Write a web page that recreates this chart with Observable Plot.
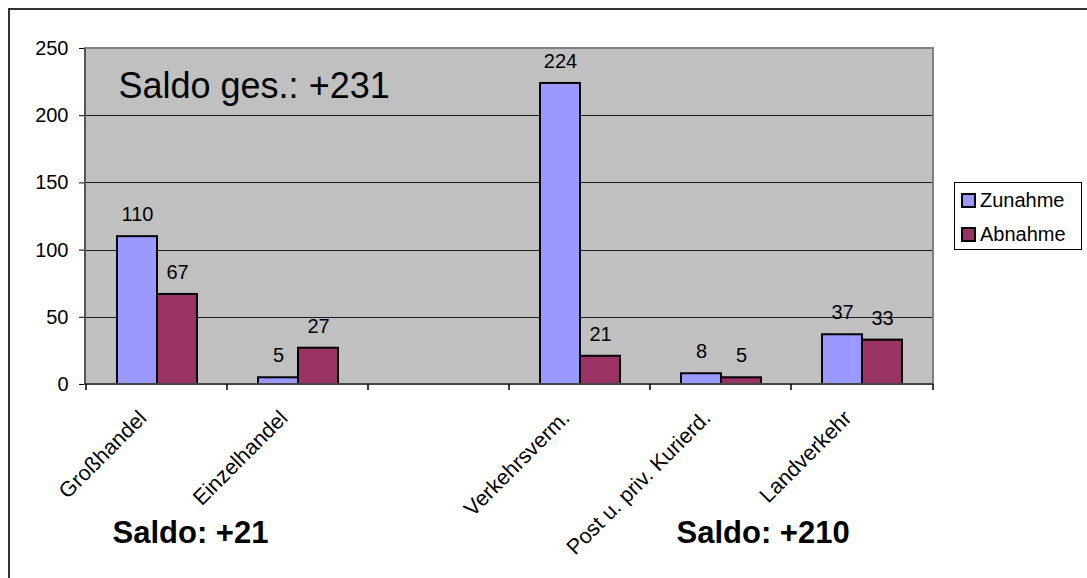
<!DOCTYPE html>
<html><head><meta charset="utf-8">
<script src="https://cdn.jsdelivr.net/npm/d3@7"></script>
<script src="https://cdn.jsdelivr.net/npm/@observablehq/plot@0.6"></script>
<style>
body{margin:0;background:#fff;font-family:"Liberation Sans",Arial,sans-serif;}
#wrap{position:relative;width:1087px;height:578px;overflow:hidden;}
#frame{position:absolute;left:8px;top:8px;width:1200px;height:700px;border-left:2px solid #333;border-top:2px solid #333;pointer-events:none;}
#legend{position:absolute;left:954px;top:182px;width:126px;height:66px;border:1px solid #000;background:#fff;}
.item{position:absolute;left:6px;height:20px;font-size:20px;line-height:20px;display:flex;align-items:center;color:#000;}
.sw{width:11px;height:11px;border:2px solid #000;margin-right:4px;}
</style></head>
<body><div id="wrap"></div>
<script>
const categories = ["Großhandel", "Einzelhandel", " ", "Verkehrsverm.", "Post u. priv. Kurierd.", "Landverkehr"];
const series = ["Zunahme", "Abnahme"];
const zunahme = [110, 5, null, 224, 8, 37];
const abnahme = [67, 27, null, 21, 5, 33];
const colors = ["#9999FF", "#993366"];
const yTicks = [0, 50, 100, 150, 200, 250];
const saldoTotal = [{cat: "Großhandel", text: "Saldo ges.: +231"}];
const saldoGroups = [{cat: "Großhandel", text: "Saldo: +21"}, {cat: "Post u. priv. Kurierd.", text: "Saldo: +210"}];

const colorOf = Object.fromEntries(series.map((s, i) => [s, colors[i]]));
const rows = categories.flatMap((c, i) => [
  {cat: c, series: series[0], value: zunahme[i]},
  {cat: c, series: series[1], value: abnahme[i]}
]);
const FONT = "Liberation Sans, Arial, sans-serif";

const plot = Plot.plot({
  width: 1087, height: 578,
  marginLeft: 85, marginRight: 154, marginTop: 48, marginBottom: 194,
  style: {fontFamily: FONT, fontSize: "20px", color: "#000", background: "transparent", overflow: "visible"},
  fx: {domain: categories, padding: 0, label: null},
  x: {domain: series, paddingInner: 0, paddingOuter: 0.75, axis: null},
  y: {domain: [0, 250], label: null},
  marks: [
    Plot.gridY({ticks: yTicks.filter(t => t > 0 && t < 250), stroke: "#000", strokeOpacity: 0.85, strokeWidth: 1, shapeRendering: "crispEdges"}),
    Plot.barY(rows, {fx: "cat", x: "series", y: "value", fill: d => colorOf[d.series], stroke: "#000", strokeWidth: 2}),
    Plot.text(rows.filter(d => d.value != null), {fx: "cat", x: "series", y: "value", text: d => String(d.value), lineAnchor: "middle", dy: -22, fontSize: 20, fill: "#000"}),
    Plot.axisY({ticks: yTicks, tickSize: 7, tickPadding: 11, fontSize: 20, label: null, stroke: "#000"}),
    Plot.axisFx({anchor: "bottom", tickSize: 0, tickPadding: 30, tickRotate: -45, fontSize: 21.5, label: null, dx: -14}),
    Plot.text(saldoTotal, {fx: "cat", frameAnchor: "top-left", text: "text", textAnchor: "start", lineAnchor: "middle", dx: 32, dy: 38, fontSize: 36, fill: "#000"}),
    Plot.text(saldoGroups, {fx: "cat", frameAnchor: "bottom-left", text: "text", textAnchor: "start", lineAnchor: "middle", dx: 26, dy: 149, fontSize: 31, fontWeight: "bold", fill: "#000"})
  ]
});

// Excel-style plot area, axis lines and boundary ticks, computed from Plot's own scales
const fx = plot.scale("fx"), y = plot.scale("y");
const [x0, x1] = fx.range;
const [yb, yt] = y.range;
const svg = d3.select(plot);
svg.insert("rect", ":first-child").attr("x", x0).attr("y", yt).attr("width", x1 - x0).attr("height", yb - yt).attr("fill", "#c0c0c0");
const deco = svg.append("g");
deco.append("rect").attr("x", x0).attr("y", yt).attr("width", x1 - x0).attr("height", yb - yt)
  .attr("fill", "none").attr("stroke", "#808080").attr("stroke-width", 2);
deco.append("line").attr("x1", x0).attr("x2", x0).attr("y1", yt).attr("y2", yb).attr("stroke", "#555").attr("stroke-width", 2);
deco.append("line").attr("x1", x0).attr("x2", x1).attr("y1", yb).attr("y2", yb).attr("stroke", "#333").attr("stroke-width", 1.5);
const bounds = categories.map(c => fx.apply(c)).concat([x1]);
bounds.forEach(b => deco.append("line").attr("x1", b).attr("x2", b).attr("y1", yb).attr("y2", yb + 6).attr("stroke", "#000").attr("stroke-width", 1.5));

const wrap = document.getElementById("wrap");
wrap.appendChild(plot);
const frame = document.createElement("div"); frame.id = "frame"; wrap.appendChild(frame);
const legend = document.createElement("div"); legend.id = "legend";
series.forEach((s, i) => {
  const it = document.createElement("div"); it.className = "item"; it.style.top = (7 + i * 34) + "px";
  const sw = document.createElement("span"); sw.className = "sw"; sw.style.background = colors[i];
  const tx = document.createElement("span"); tx.textContent = s;
  it.appendChild(sw); it.appendChild(tx); legend.appendChild(it);
});
wrap.appendChild(legend);
</script>
</body></html>
